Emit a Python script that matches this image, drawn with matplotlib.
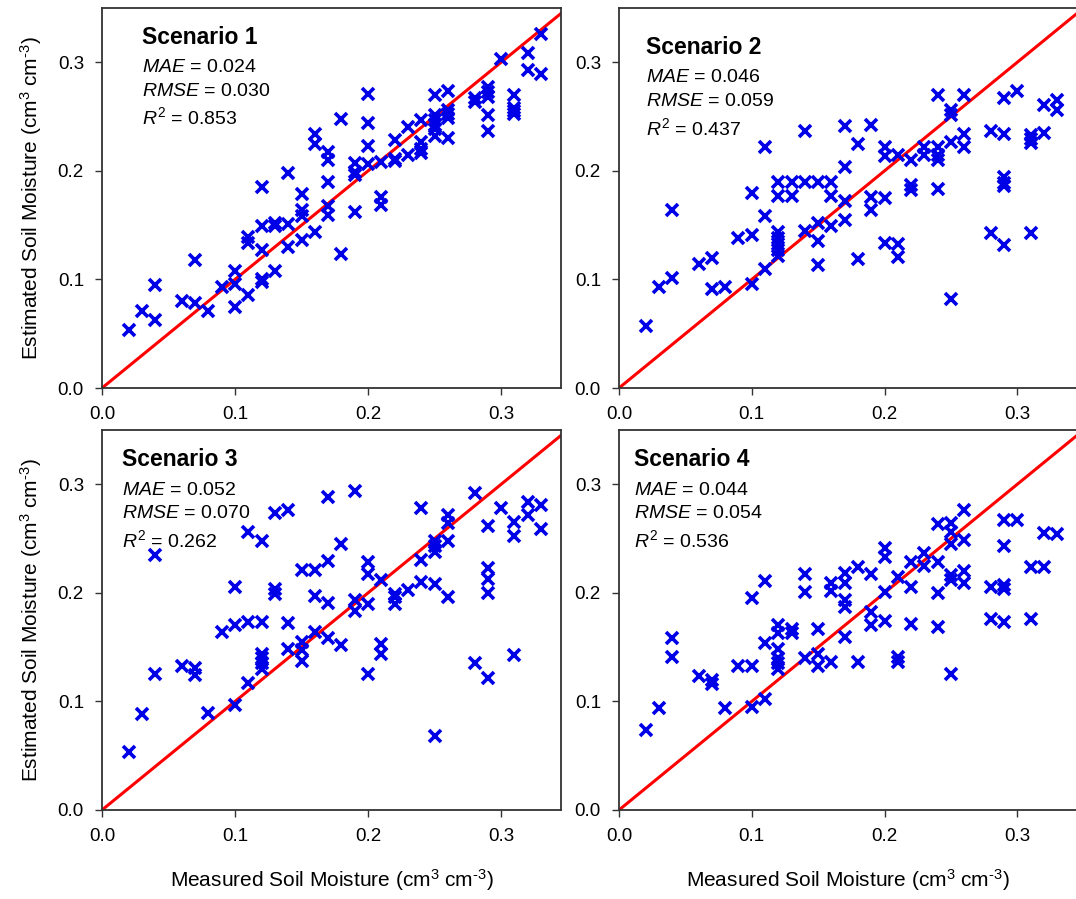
import numpy as np
import matplotlib
matplotlib.use("Agg")
import matplotlib.pyplot as plt

# ───────────── data ─────────────
scenarios = ["Scenario 1", "Scenario 2", "Scenario 3", "Scenario 4"]
mae = ["0.024", "0.046", "0.052", "0.044"]
rmse = ["0.030", "0.059", "0.070", "0.054"]
r2 = ["0.853", "0.437", "0.262", "0.536"]

meas_1 = [0.02, 0.03, 0.04, 0.04, 0.06, 0.07, 0.07, 0.08, 0.09, 0.10, 0.10, 0.10,
          0.11, 0.11, 0.11, 0.12, 0.12, 0.12, 0.12, 0.12, 0.13, 0.13, 0.13, 0.14,
          0.14, 0.14, 0.15, 0.15, 0.15, 0.15, 0.16, 0.16, 0.16, 0.17, 0.17, 0.17,
          0.17, 0.17, 0.18, 0.18, 0.19, 0.19, 0.19, 0.19, 0.20, 0.20, 0.20, 0.20,
          0.21, 0.21, 0.21, 0.22, 0.22, 0.22, 0.23, 0.23, 0.24, 0.24, 0.24, 0.24,
          0.25, 0.25, 0.25, 0.25, 0.25, 0.25, 0.26, 0.26, 0.26, 0.26, 0.26, 0.28,
          0.28, 0.29, 0.29, 0.29, 0.29, 0.29, 0.30, 0.31, 0.31, 0.31, 0.31, 0.32,
          0.32, 0.33, 0.33]
est_1 = [0.053, 0.071, 0.063, 0.095, 0.080, 0.118, 0.078, 0.071, 0.093, 0.108, 0.096, 0.075,
         0.086, 0.139, 0.134, 0.185, 0.149, 0.127, 0.100, 0.098, 0.152, 0.149, 0.108, 0.151,
         0.130, 0.198, 0.179, 0.164, 0.158, 0.136, 0.144, 0.234, 0.225, 0.217, 0.210, 0.190,
         0.168, 0.159, 0.248, 0.123, 0.207, 0.199, 0.196, 0.162, 0.271, 0.244, 0.223, 0.206,
         0.208, 0.176, 0.169, 0.228, 0.211, 0.209, 0.240, 0.215, 0.247, 0.227, 0.220, 0.216,
         0.270, 0.251, 0.247, 0.242, 0.239, 0.232, 0.274, 0.256, 0.252, 0.249, 0.230, 0.267,
         0.263, 0.277, 0.273, 0.268, 0.251, 0.237, 0.303, 0.270, 0.258, 0.255, 0.252, 0.309,
         0.293, 0.326, 0.289]

meas_2 = [0.02, 0.03, 0.04, 0.04, 0.06, 0.07, 0.07, 0.08, 0.09, 0.10, 0.10, 0.10,
          0.11, 0.11, 0.11, 0.12, 0.12, 0.12, 0.12, 0.12, 0.12, 0.12, 0.13, 0.13,
          0.14, 0.14, 0.14, 0.15, 0.15, 0.15, 0.15, 0.16, 0.16, 0.16, 0.17, 0.17,
          0.17, 0.17, 0.18, 0.18, 0.19, 0.19, 0.19, 0.20, 0.20, 0.20, 0.20, 0.21,
          0.21, 0.21, 0.22, 0.22, 0.22, 0.23, 0.23, 0.24, 0.24, 0.24, 0.24, 0.24,
          0.25, 0.25, 0.25, 0.25, 0.26, 0.26, 0.26, 0.28, 0.28, 0.29, 0.29, 0.29,
          0.29, 0.29, 0.29, 0.30, 0.31, 0.31, 0.31, 0.31, 0.32, 0.32, 0.33, 0.33]
est_2 = [0.057, 0.093, 0.101, 0.164, 0.114, 0.120, 0.091, 0.093, 0.138, 0.141, 0.096, 0.180,
         0.158, 0.110, 0.222, 0.190, 0.177, 0.144, 0.138, 0.133, 0.127, 0.122, 0.190, 0.177,
         0.190, 0.145, 0.237, 0.190, 0.152, 0.135, 0.113, 0.190, 0.177, 0.149, 0.241, 0.204,
         0.172, 0.155, 0.225, 0.119, 0.242, 0.176, 0.164, 0.222, 0.214, 0.175, 0.134, 0.215,
         0.133, 0.121, 0.210, 0.187, 0.182, 0.222, 0.215, 0.270, 0.222, 0.215, 0.210, 0.183,
         0.256, 0.251, 0.227, 0.082, 0.270, 0.234, 0.222, 0.237, 0.143, 0.267, 0.234, 0.194,
         0.189, 0.186, 0.132, 0.274, 0.233, 0.229, 0.226, 0.143, 0.261, 0.235, 0.265, 0.256]

meas_3 = [0.02, 0.03, 0.04, 0.04, 0.06, 0.07, 0.07, 0.08, 0.09, 0.10, 0.10, 0.10,
          0.11, 0.11, 0.11, 0.12, 0.12, 0.12, 0.12, 0.12, 0.12, 0.13, 0.13, 0.13,
          0.14, 0.14, 0.14, 0.15, 0.15, 0.15, 0.15, 0.16, 0.16, 0.16, 0.17, 0.17,
          0.17, 0.17, 0.18, 0.18, 0.19, 0.19, 0.19, 0.20, 0.20, 0.20, 0.20, 0.21,
          0.21, 0.21, 0.22, 0.22, 0.22, 0.23, 0.24, 0.24, 0.24, 0.25, 0.25, 0.25,
          0.25, 0.25, 0.26, 0.26, 0.26, 0.26, 0.28, 0.28, 0.29, 0.29, 0.29, 0.29,
          0.29, 0.30, 0.31, 0.31, 0.31, 0.32, 0.32, 0.33, 0.33]
est_3 = [0.053, 0.088, 0.125, 0.235, 0.133, 0.131, 0.124, 0.089, 0.164, 0.170, 0.205, 0.097,
         0.256, 0.173, 0.117, 0.248, 0.173, 0.144, 0.140, 0.135, 0.130, 0.274, 0.204, 0.199,
         0.276, 0.172, 0.148, 0.221, 0.155, 0.147, 0.137, 0.221, 0.197, 0.164, 0.288, 0.229,
         0.191, 0.158, 0.245, 0.152, 0.294, 0.193, 0.183, 0.228, 0.217, 0.190, 0.125, 0.212,
         0.153, 0.144, 0.199, 0.196, 0.190, 0.203, 0.278, 0.230, 0.210, 0.248, 0.243, 0.238,
         0.208, 0.068, 0.272, 0.264, 0.248, 0.196, 0.292, 0.135, 0.262, 0.223, 0.213, 0.200,
         0.122, 0.278, 0.265, 0.252, 0.143, 0.284, 0.272, 0.281, 0.259]

meas_4 = [0.02, 0.03, 0.04, 0.04, 0.06, 0.07, 0.07, 0.08, 0.09, 0.10, 0.10, 0.10,
          0.11, 0.11, 0.11, 0.12, 0.12, 0.12, 0.12, 0.12, 0.12, 0.13, 0.13, 0.14,
          0.14, 0.14, 0.15, 0.15, 0.15, 0.16, 0.16, 0.16, 0.17, 0.17, 0.17, 0.17,
          0.17, 0.18, 0.18, 0.19, 0.19, 0.19, 0.20, 0.20, 0.20, 0.20, 0.21, 0.21,
          0.21, 0.22, 0.22, 0.22, 0.23, 0.23, 0.24, 0.24, 0.24, 0.24, 0.25, 0.25,
          0.25, 0.25, 0.25, 0.25, 0.26, 0.26, 0.26, 0.26, 0.28, 0.28, 0.29, 0.29,
          0.29, 0.29, 0.29, 0.30, 0.31, 0.31, 0.32, 0.32, 0.33]
est_4 = [0.074, 0.094, 0.158, 0.141, 0.123, 0.120, 0.116, 0.094, 0.133, 0.195, 0.133, 0.095,
         0.211, 0.154, 0.102, 0.170, 0.163, 0.148, 0.140, 0.135, 0.130, 0.167, 0.163, 0.217,
         0.201, 0.140, 0.167, 0.144, 0.133, 0.209, 0.202, 0.136, 0.218, 0.209, 0.193, 0.187,
         0.159, 0.224, 0.136, 0.217, 0.182, 0.170, 0.241, 0.233, 0.201, 0.174, 0.215, 0.141,
         0.136, 0.228, 0.205, 0.171, 0.237, 0.225, 0.263, 0.228, 0.200, 0.169, 0.264, 0.256,
         0.245, 0.216, 0.212, 0.125, 0.276, 0.249, 0.220, 0.209, 0.205, 0.176, 0.267, 0.243,
         0.207, 0.204, 0.173, 0.267, 0.224, 0.176, 0.255, 0.224, 0.254]

measured = [meas_1, meas_2, meas_3, meas_4]
estimated = [est_1, est_2, est_3, est_4]

# ───────────── style ─────────────
plt.rcParams.update({
    "font.family": "Liberation Sans",
    "mathtext.fontset": "custom",
    "mathtext.rm": "Liberation Sans",
    "mathtext.it": "Liberation Sans:italic",
    "font.size": 13,
})

W, H = 1076, 899
fig = plt.figure(figsize=(W / 100, H / 100), dpi=100)

# axes boxes in pixels: (left, top, right, bottom)
boxes = [(102, 8, 561, 388), (619, 8, 1077, 388),
         (102, 430, 561, 810), (619, 430, 1077, 810)]

xmax, ymax = 0.345, 0.35
unit = r"(cm$^{3}$ cm$^{\text{-3}}$)"
for i, (l, t, r, b) in enumerate(boxes):
    ax = fig.add_axes([l / W, 1 - b / H, (r - l) / W, (b - t) / H])
    ax.plot([0, 0.4], [0, 0.4], color="red", lw=2.2, zorder=2)
    ax.plot(measured[i], estimated[i], linestyle="none", marker="x",
            markersize=9, markeredgewidth=2.6, color="#0000e6", zorder=3)
    ax.set_xlim(0, xmax)
    ax.set_ylim(0, ymax)
    ax.set_xticks([0.0, 0.1, 0.2, 0.3])
    ax.set_yticks([0.0, 0.1, 0.2, 0.3])
    ax.set_xticklabels(["0.0", "0.1", "0.2", "0.3"])
    ax.set_yticklabels(["0.0", "0.1", "0.2", "0.3"])
    ax.tick_params(direction="out", length=5, width=1.0, labelsize=13.5, pad=8,
                   color="#333333")
    for s in ax.spines.values():
        s.set_linewidth(1.3)
        s.set_color("#333333")

    # annotation block
    tx = [142, 646, 122, 634][i]
    ty = [37, 48, 460, 460][i]
    fig.text(tx / W, 1 - ty / H, scenarios[i], fontsize=16.5, fontweight="bold",
             va="center", ha="left")
    fig.text(tx / W, 1 - (ty + 30) / H, r"$MAE$ = " + mae[i], fontsize=14,
             va="center", ha="left")
    fig.text(tx / W, 1 - (ty + 54) / H, r"$RMSE$ = " + rmse[i], fontsize=14,
             va="center", ha="left")
    fig.text(tx / W, 1 - (ty + 80) / H, r"$R^{2}$ = " + r2[i], fontsize=14,
             va="center", ha="left")

    if i in (0, 2):
        ax.set_ylabel("Estimated Soil Moisture " + unit, fontsize=15, labelpad=10)
    if i in (2, 3):
        ax.set_xlabel("Measured Soil Moisture " + unit, fontsize=15, labelpad=16)

fig.savefig("out.png", dpi=100)
